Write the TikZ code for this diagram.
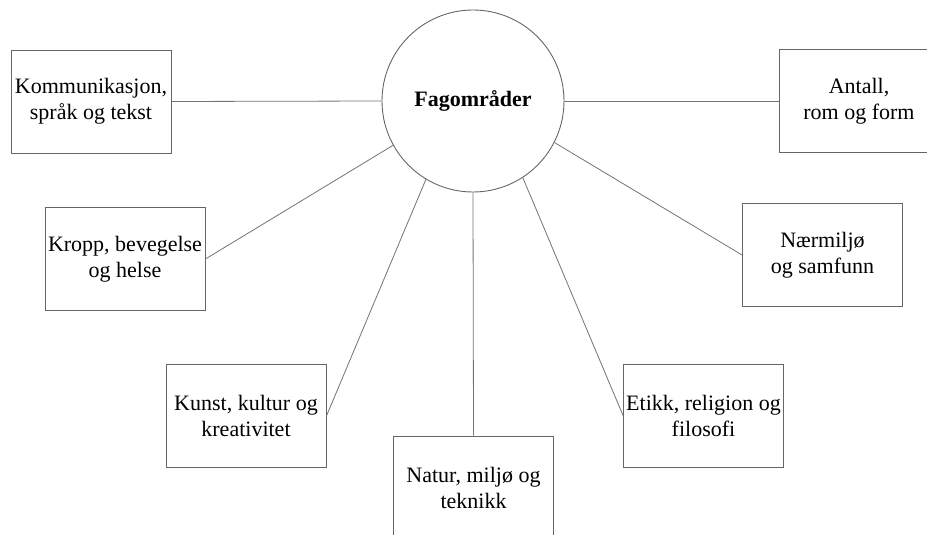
\documentclass[tikz,border=0pt]{standalone}
\usepackage{fontspec}
\setmainfont{Liberation Serif}
\usepackage{tikz}

\tikzset{
	omraade/.style={draw=black!60, line width=0.9pt, rectangle, minimum width=160pt, minimum height=103pt, align=center, inner sep=2pt, font=\fontsize{22}{26}\selectfont},
	sentrum/.style={draw=black!60, line width=0.9pt, circle, minimum size=182pt, inner sep=0pt, font=\fontsize{22}{26}\selectfont\bfseries},
	kant/.style={draw=black!55, line width=0.8pt}
}

\begin{document}
\begin{tikzpicture}[x=1pt, y=-1pt]
	\useasboundingbox (0,0) rectangle (927,535);
	\node[sentrum] (fag) at (473,101) {Fagområder};
	
	\node[omraade] (komm)   at (91,101.5)   {Kommunikasjon,\\språk og tekst};	%top left
	\node[omraade] (antall) at (859,101)    {Antall,\\rom og form};				%top right
	\node[omraade] (kropp)  at (125,259)    {Kropp, bevegelse\\og helse};
	\node[omraade] (narm)   at (822.5,255)  {Nærmiljø\\og samfunn};
	\node[omraade] (kunst)  at (246,416)    {Kunst, kultur og\\kreativitet};
	\node[omraade] (natur)  at (473.5,487.5) {Natur, miljø og\\teknikk};			%bottom
	\node[omraade] (etikk)  at (703.5,415.5) {Etikk, religion og\\filosofi};
	
	\draw[kant] (fag.west)--(komm.east);		%fag--komm
	\draw[kant] (fag.east)--(antall.west);		%fag--antall
	\draw[kant] (fag.209)--(kropp.east);		%fag--kropp
	\draw[kant] (fag.333)--(narm.west);		%fag--narm
	\draw[kant] (fag.239)--(kunst.east);		%fag--kunst
	\draw[kant] (fag.south)--(natur.north);	%fag--natur
	\draw[kant] (fag.303)--(etikk.west);		%fag--etikk
\end{tikzpicture}
\end{document}
